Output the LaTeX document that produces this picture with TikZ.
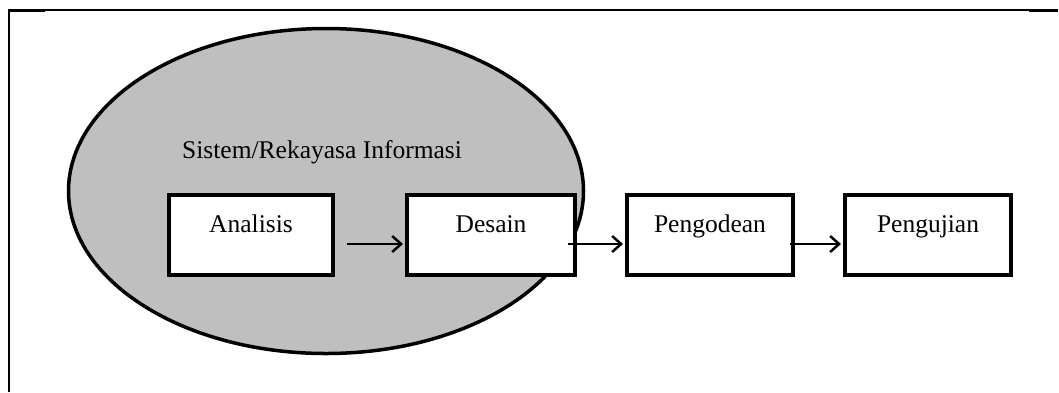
\documentclass[tikz,border=0pt]{standalone}
\usepackage{fontspec}
\setmainfont{Liberation Serif}
\usetikzlibrary{arrows.meta}
\begin{document}
\begin{tikzpicture}[x=1pt,y=-1pt,
  stepbox/.style={draw=black, fill=white, line width=4.5pt, inner sep=0pt, outer sep=0pt,
    minimum width=166pt, text height=37pt, text depth=43pt, anchor=base,
    font=\fontsize{25.5}{30}\selectfont},
  flow/.style={line width=2.5pt, -{Straight Barb[length=9pt,width=16pt,line width=2.5pt]}},
  lbl/.style={font=\fontsize{25.5}{30}\selectfont, anchor=base west, inner sep=0pt}]
\useasboundingbox (0,0) rectangle (1059,392);
% frame
\draw[line width=2pt] (9,392) -- (9,10);
\draw[line width=1.2pt] (9,10) -- (1058,10);
\draw[line width=3pt] (8,10.5) -- (45,10.5);
\draw[line width=3pt] (1029,10.5) -- (1058,10.5);
% ellipse
\draw[line width=3.5pt, fill=black!25] (326,191) ellipse [x radius=257.5, y radius=162.5];
\node[lbl] (sys) at (182,158) {Sistem/Rekayasa Informasi};
% boxes
\node[stepbox, minimum width=164pt] (a) at (251,232) {Analisis};
\node[stepbox, minimum width=168pt] (d) at (491,232) {Desain};
\node[stepbox] (p) at (710,232) {Pengodean};
\node[stepbox] (u) at (928,232) {Pengujian};
% arrows
\draw[flow, shorten <=14pt, shorten >=4pt] ([yshift=-9pt]a.east) -- ([yshift=-9pt]d.west);
\draw[flow, shorten <=-7pt, shorten >=4pt] ([yshift=-9pt]d.east) -- ([yshift=-9pt]p.west);
\draw[flow, shorten <=-3pt, shorten >=4pt] ([yshift=-9pt]p.east) -- ([yshift=-9pt]u.west);
\end{tikzpicture}
\end{document}
